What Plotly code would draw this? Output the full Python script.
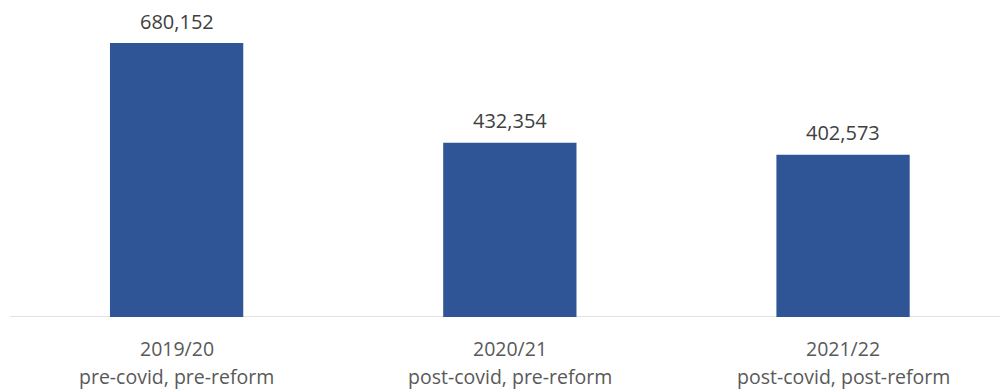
import plotly.graph_objects as go

categories = ["2019/20", "2020/21", "2021/22"]
subtitles = ["pre-covid, pre-reform", "post-covid, pre-reform", "post-covid, post-reform"]
values = [680152, 432354, 402573]

BAR = "#2F5597"
FONT = "Open Sans"

fig = go.Figure(go.Bar(
    x=categories, y=values, marker=dict(color=BAR, line=dict(width=0)),
    width=0.4, hoverinfo="skip",
))

for c, v, s in zip(categories, values, subtitles):
    fig.add_annotation(x=c, y=v, text=f"{v:,}", showarrow=False, yanchor="middle",
                       yshift=22, font=dict(family=FONT, size=20, color="#404040"))
    fig.add_annotation(x=c, y=0, text=c, showarrow=False, yanchor="middle",
                       yshift=-31, font=dict(family=FONT, size=19.5, color="#595959"))
    fig.add_annotation(x=c, y=0, text=s, showarrow=False, yanchor="middle",
                       yshift=-59, font=dict(family=FONT, size=19.5, color="#595959"))

fig.update_layout(
    width=1000, height=389,
    margin=dict(l=10, r=0, t=0, b=72),
    paper_bgcolor="white", plot_bgcolor="white",
    showlegend=False,
    xaxis=dict(range=[-0.5, 2.471], showticklabels=False, showgrid=False,
               showline=False, zeroline=False, ticks=""),
    yaxis=dict(range=[0, 787000], visible=False, showgrid=False, zeroline=False),
    shapes=[dict(type="line", xref="paper", yref="y", x0=0, x1=1, y0=0, y1=0,
                 line=dict(color="#D9D9D9", width=1.5), layer="below")],
)

fig.write_html("out.html")
